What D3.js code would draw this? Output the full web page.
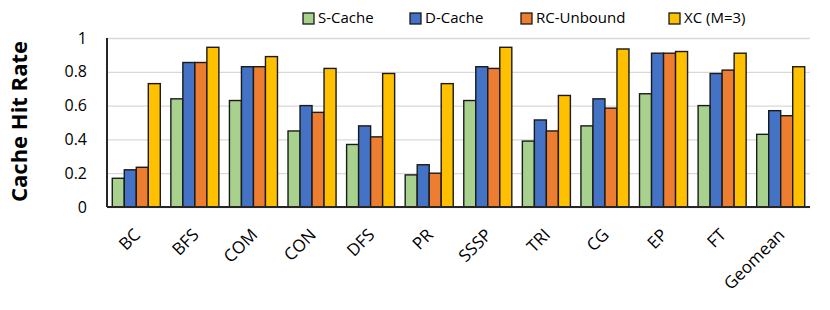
<!DOCTYPE html>
<html>
<head>
<meta charset="utf-8">
<script src="https://cdn.jsdelivr.net/npm/d3@7"></script>
<style>
  body { margin: 0; background: #fff; }
  svg text { font-family: "Open Sans", "Noto Sans", sans-serif; fill: #000; }
</style>
</head>
<body>
<div id="chart"></div>
<script>
// chart data
const categories = ['BC', 'BFS', 'COM', 'CON', 'DFS', 'PR', 'SSSP', 'TRI', 'CG', 'EP', 'FT', 'Geomean'];
const seriesNames = ['S-Cache', 'D-Cache', 'RC-Unbound', 'XC (M=3)'];
const sCache    = [0.17, 0.64, 0.63, 0.45, 0.37, 0.19, 0.63, 0.39, 0.48, 0.67, 0.60, 0.43];
const dCache    = [0.22, 0.855, 0.83, 0.60, 0.48, 0.25, 0.83, 0.515, 0.64, 0.91, 0.79, 0.57];
const rcUnbound = [0.235, 0.855, 0.83, 0.56, 0.415, 0.20, 0.82, 0.45, 0.585, 0.91, 0.81, 0.54];
const xcM3      = [0.73, 0.945, 0.89, 0.82, 0.79, 0.73, 0.945, 0.66, 0.935, 0.92, 0.91, 0.83];
const yTicks = [0, 0.2, 0.4, 0.6, 0.8, 1];
const colors = ['#A9D18E', '#4472C4', '#ED7D31', '#FFC000'];

const allSeries = [sCache, dCache, rcUnbound, xcM3];

const width = 830, height = 310;
const margin = { top: 38, right: 20, bottom: 103, left: 107 };
const innerW = width - margin.left - margin.right;
const innerH = height - margin.top - margin.bottom;

const svg = d3.select('#chart').append('svg')
    .attr('width', width)
    .attr('height', height);

const g = svg.append('g')
    .attr('transform', `translate(${margin.left},${margin.top})`);

const x0 = d3.scaleBand()
    .domain(categories)
    .range([0, innerW])
    .paddingInner(0.18)
    .paddingOuter(0.09);

const x1 = d3.scaleBand()
    .domain(d3.range(seriesNames.length))
    .range([0, x0.bandwidth()]);

const y = d3.scaleLinear()
    .domain([0, 1])
    .range([innerH, 0]);

// grid lines
g.append('g')
    .call(d3.axisLeft(y).tickValues(yTicks).tickSize(-innerW).tickFormat(''))
    .call(s => s.select('.domain').remove())
    .selectAll('line')
    .attr('stroke', '#d9d9d9')
    .attr('stroke-width', 1.3);

// bars
const groups = g.selectAll('.grp')
    .data(categories)
    .enter()
    .append('g')
    .attr('transform', d => `translate(${x0(d)},0)`);

groups.selectAll('rect')
    .data((d, i) => allSeries.map((s, j) => ({ j, v: s[i] })))
    .enter()
    .append('rect')
    .attr('x', d => x1(d.j))
    .attr('y', d => y(d.v))
    .attr('width', x1.bandwidth())
    .attr('height', d => innerH - y(d.v))
    .attr('fill', d => colors[d.j])
    .attr('stroke', '#1a1a1a')
    .attr('stroke-width', 1.4);

// axes lines
g.append('line')
    .attr('x1', 0).attr('x2', 0)
    .attr('y1', y(1)).attr('y2', innerH)
    .attr('stroke', '#262626').attr('stroke-width', 2);
g.append('line')
    .attr('x1', 0).attr('x2', innerW)
    .attr('y1', innerH).attr('y2', innerH)
    .attr('stroke', '#262626').attr('stroke-width', 2);

// y tick labels
g.selectAll('.ytick')
    .data(yTicks)
    .enter()
    .append('text')
    .attr('x', -20)
    .attr('y', d => y(d))
    .attr('dy', '0.35em')
    .attr('text-anchor', 'end')
    .attr('font-size', '16px')
    .text(d => d);

// x tick labels
g.selectAll('.xtick')
    .data(categories)
    .enter()
    .append('text')
    .attr('transform', d => `translate(${x0(d) + x0.bandwidth() / 2 + 5},${innerH + 29}) rotate(-45)`)
    .attr('text-anchor', 'end')
    .attr('font-size', '17px')
    .text(d => d);

// y axis title
svg.append('text')
    .attr('transform', `translate(27,${margin.top + innerH / 2 - 1}) rotate(-90)`)
    .attr('text-anchor', 'middle')
    .attr('font-size', '22px')
    .attr('font-weight', 'bold')
    .text('Cache Hit Rate');

// legend
const legendX = [303, 410, 521, 669];
const legend = svg.selectAll('.leg')
    .data(seriesNames)
    .enter()
    .append('g')
    .attr('transform', (d, i) => `translate(${legendX[i]},13)`);

legend.append('rect')
    .attr('width', 11)
    .attr('height', 11)
    .attr('fill', (d, i) => colors[i])
    .attr('stroke', '#1a1a1a')
    .attr('stroke-width', 1.3);

legend.append('text')
    .attr('x', 15)
    .attr('y', 5)
    .attr('dy', '0.35em')
    .attr('font-size', '15px')
    .text(d => d);
</script>
</body>
</html>
